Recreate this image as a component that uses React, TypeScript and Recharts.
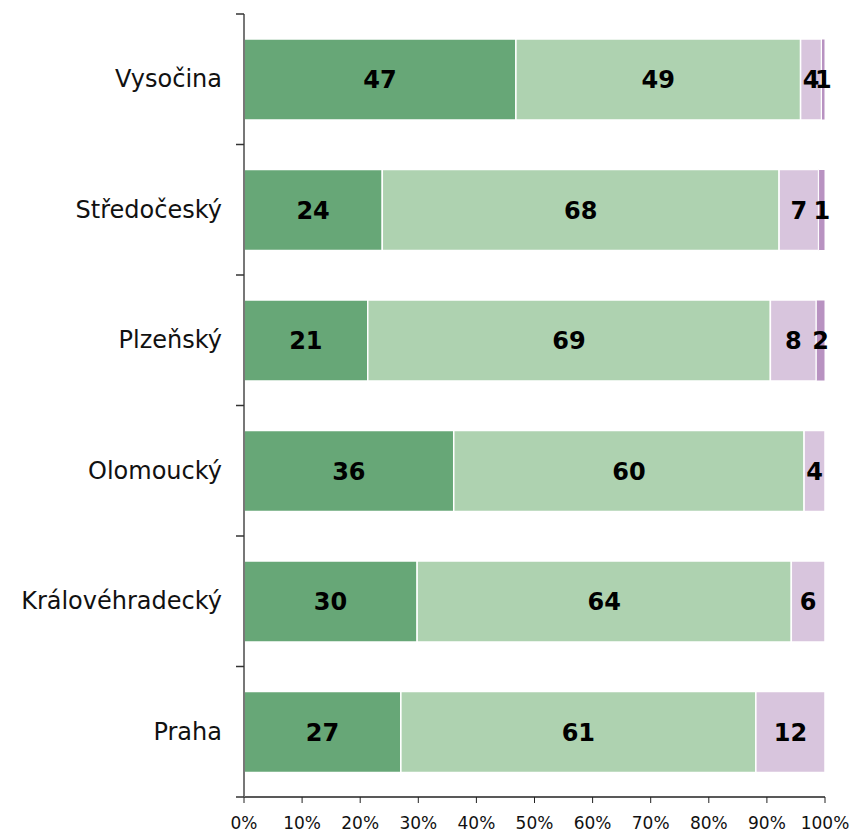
import React from 'react';
import { BarChart, Bar, XAxis, YAxis, LabelList } from 'recharts';

// kraje (shora dolů) a podíly jednotlivých odpovědí v %
const regions = ['Vysočina', 'Středočeský', 'Plzeňský', 'Olomoucký', 'Královéhradecký', 'Praha'];
const seriesA = [46.8, 23.8, 21.3, 36.1, 29.8, 27.0];
const seriesB = [49.0, 68.3, 69.3, 60.3, 64.4, 61.1];
const seriesC = [3.6, 6.8, 7.9, 3.6, 5.8, 11.9];
const seriesD = [0.6, 1.1, 1.5, 0, 0, 0];
const xTicks = [0, 10, 20, 30, 40, 50, 60, 70, 80, 90, 100];

const COLORS = {
  a: '#67a777',
  b: '#aed2b0',
  c: '#d8c5dd',
  d: '#b892c1',
};

const data = regions.map((name, i) => ({
  name,
  a: seriesA[i],
  b: seriesB[i],
  c: seriesC[i],
  d: seriesD[i],
}));

const FONT = 'Verdana, "DejaVu Sans", sans-serif';
const BAND = (797 - 14) / regions.length;

// popisek kategorie + tick na hranici pásma
const CategoryTick = (props: any) => {
  const { x, y, payload, index } = props;
  const axisX = x;
  return (
    <g>
      <line x1={axisX - 8} x2={axisX} y1={y - BAND / 2} y2={y - BAND / 2} stroke="#333" strokeWidth={1.5} />
      {index === regions.length - 1 && (
        <line x1={axisX - 8} x2={axisX} y1={y + BAND / 2} y2={y + BAND / 2} stroke="#333" strokeWidth={1.5} />
      )}
      <text x={axisX - 22} y={y} dy={8} textAnchor="end" fontSize={24} fontFamily={FONT} fill="#111">
        {payload.value}
      </text>
    </g>
  );
};

const fmt = (v: any) => (v > 0 ? Math.round(v) : '');

export default function App() {
  return (
    <div style={{ width: 851, height: 833, background: '#fff' }}>
      <style>{'body{margin:0}'}</style>
      <BarChart
        width={851}
        height={833}
        data={data}
        layout="vertical"
        barCategoryGap={25}
        margin={{ top: 14, right: 26, bottom: 0, left: 0 }}
      >
        <XAxis
          type="number"
          domain={[0, 100]}
          ticks={xTicks}
          tickFormatter={(v) => `${v}%`}
          interval={0}
          height={36}
          tick={{ fontSize: 17, fontFamily: FONT, fill: '#111' }}
          tickSize={6}
          tickMargin={14}
          stroke="#222"
          axisLine={{ stroke: '#222', strokeWidth: 1.5 }}
          allowDataOverflow
        />
        <YAxis
          type="category"
          dataKey="name"
          width={244}
          axisLine={{ stroke: '#777', strokeWidth: 2 }}
          tickLine={false}
          tickSize={0}
          tickMargin={0}
          tick={<CategoryTick />}
        />
        <Bar dataKey="a" stackId="s" fill={COLORS.a} stroke="#fff" strokeWidth={1.5} isAnimationActive={false}>
          <LabelList dataKey="a" position="center" formatter={fmt} fontSize={24} fontWeight="bold" fontFamily={FONT} fill="#000" />
        </Bar>
        <Bar dataKey="b" stackId="s" fill={COLORS.b} stroke="#fff" strokeWidth={1.5} isAnimationActive={false}>
          <LabelList dataKey="b" position="center" formatter={fmt} fontSize={24} fontWeight="bold" fontFamily={FONT} fill="#000" />
        </Bar>
        <Bar dataKey="c" stackId="s" fill={COLORS.c} stroke="#fff" strokeWidth={1.5} isAnimationActive={false}>
          <LabelList dataKey="c" position="center" formatter={fmt} fontSize={24} fontWeight="bold" fontFamily={FONT} fill="#000" />
        </Bar>
        <Bar dataKey="d" stackId="s" fill={COLORS.d} stroke="#fff" strokeWidth={1} isAnimationActive={false}>
          <LabelList dataKey="d" position="center" formatter={fmt} fontSize={24} fontWeight="bold" fontFamily={FONT} fill="#000" />
        </Bar>
      </BarChart>
    </div>
  );
}
